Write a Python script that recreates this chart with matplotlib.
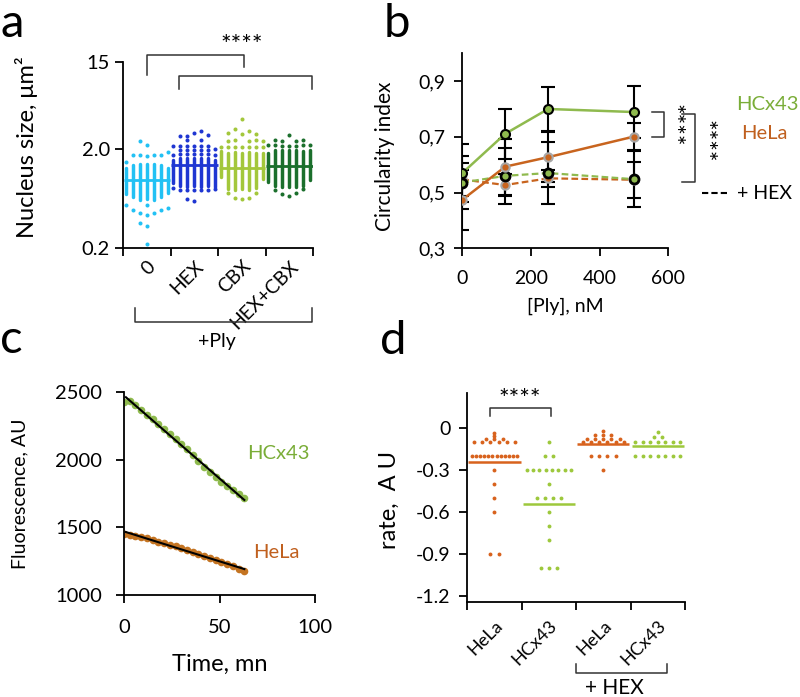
import numpy as np
import matplotlib.pyplot as plt
from matplotlib.ticker import NullLocator

plt.rcParams['font.family'] = ['Lato', 'DejaVu Sans']
plt.rcParams['axes.linewidth'] = 1.3

# ---------------- panel a : nucleus size ----------------
a_groups = ['0', 'HEX', 'CBX', 'HEX+CBX']
a_colors = ['#22c1f4', '#1f36d2', '#a3c73b', '#1b6f2c']
# dense stacks of dots, (low, high) for each of the 7 columns of a group
a_dense = [
    [(0.70, 1.29), (0.65, 1.38), (0.61, 1.41), (0.63, 1.39), (0.61, 1.41), (0.65, 1.38), (0.71, 1.28)],
    [(0.90, 1.55), (0.85, 1.62), (0.83, 1.63), (0.84, 1.62), (0.83, 1.63), (0.85, 1.61), (0.82, 1.55)],
    [(1.05, 1.90), (0.79, 1.82), (0.77, 1.84), (0.78, 1.83), (0.77, 1.84), (0.80, 1.82), (1.00, 1.80)],
    [(0.92, 1.81), (0.84, 1.93), (0.82, 1.94), (0.83, 1.93), (0.82, 1.94), (0.85, 1.92), (0.98, 1.93)],
]
# sparse dots (column, value)
a_sparse = [
    [(2, 2.37), (3, 2.17), (1, 1.73), (2, 1.72), (3, 1.71), (4, 1.72), (5, 1.73), (6, 1.87), (0, 1.47),
     (0, 0.54), (3, 0.54), (1, 0.48), (2, 0.45), (3, 0.43), (4, 0.45), (5, 0.48), (6, 0.51),
     (2, 0.36), (3, 0.33), (3, 0.22)],
    [(1, 2.72), (2, 2.70), (3, 2.90), (4, 3.05), (5, 2.75), (2, 2.45), (4, 2.45),
     (0, 2.14), (1, 2.14), (2, 2.14), (3, 2.14), (4, 2.14), (5, 2.14), (6, 2.00),
     (1, 1.94), (2, 1.94), (3, 1.94), (4, 1.94), (5, 1.94),
     (0, 1.72), (1, 1.76), (2, 1.76), (3, 1.76), (4, 1.76), (5, 1.76), (6, 1.72),
     (0, 0.80), (1, 0.77), (2, 0.77), (3, 0.77), (4, 0.77), (5, 0.77), (6, 0.78), (2, 0.63), (3, 0.59)],
    [(3, 4.0), (2, 3.15), (4, 3.0), (1, 2.9), (3, 2.81), (5, 2.79), (1, 2.42), (2, 2.45), (4, 2.42),
     (5, 2.45), (6, 2.40), (0, 2.07), (1, 2.07), (2, 2.07), (3, 2.07), (4, 2.07), (5, 2.07), (6, 2.07),
     (1, 0.71), (2, 0.64), (3, 0.62), (4, 0.64), (5, 0.72)],
    [(3, 2.75), (1, 2.45), (2, 2.40), (4, 2.40), (5, 2.45), (0, 2.17), (1, 2.17), (2, 2.14), (3, 2.14),
     (4, 2.14), (5, 2.17), (6, 2.17), (1, 0.77), (2, 0.70), (3, 0.67), (4, 0.72), (5, 0.78)],
]
a_median = [0.98, 1.38, 1.29, 1.35]

# ---------------- panel b : circularity ----------------
b_ply = [0, 125, 250, 500]
b_hcx = [0.57, 0.711, 0.80, 0.789]
b_hcx_err = [0.105, 0.09, 0.078, 0.092]
b_hela = [0.474, 0.593, 0.627, 0.701]
b_hela_err = [0.108, 0.10, 0.09, 0.05]
b_hcx_hex = [0.536, 0.56, 0.57, 0.548]
b_hcx_hex_err = [0.095, 0.10, 0.11, 0.10]
b_hela_hex = [0.547, 0.527, 0.551, 0.546]
b_hela_hex_err = [0.06, 0.04, 0.03, 0.065]

# ---------------- panel c : fluorescence ----------------
c_time = [0, 3, 6, 9, 12, 15, 18, 21, 24, 27, 30, 33, 36, 39, 42, 45, 48, 51, 54, 57, 60, 63]
c_hcx = [2432, 2438, 2410, 2370, 2335, 2300, 2268, 2232, 2195, 2158, 2118, 2078, 2035, 1990,
         1948, 1910, 1870, 1838, 1805, 1778, 1748, 1718]
c_hela = [1452, 1445, 1440, 1432, 1420, 1405, 1392, 1382, 1372, 1360, 1348, 1335, 1320, 1305,
          1290, 1275, 1258, 1243, 1228, 1212, 1195, 1180]

# ---------------- panel d : rate ----------------
d_groups = ['HeLa', 'HCx43', 'HeLa', 'HCx43']
d_colors = ['#d8621d', '#9dc83c', '#d8621d', '#9dc83c']
# (value, number of dots at that value)
d_levels = [
    [(-0.035, 1), (-0.055, 1), (-0.08, 3), (-0.1, 6), (-0.2, 12), (-0.3, 1), (-0.4, 1), (-0.5, 1),
     (-0.6, 1), (-0.9, 2)],
    [(-0.1, 1), (-0.2, 2), (-0.3, 8), (-0.4, 1), (-0.5, 4), (-0.6, 1), (-0.7, 1), (-0.8, 1), (-1.0, 3)],
    [(-0.02, 1), (-0.05, 3), (-0.08, 5), (-0.1, 6), (-0.2, 4), (-0.3, 1)],
    [(-0.03, 1), (-0.06, 2), (-0.1, 7), (-0.2, 7)],
]
d_median = [-0.24, -0.538, -0.115, -0.127]

green = '#8fba4e'
orange = '#c8641e'
green_txt = '#7aad38'
orange_txt = '#c0601f'


def clean(ax):
    ax.spines['top'].set_visible(False)
    ax.spines['right'].set_visible(False)
    ax.tick_params(direction='out', length=6, width=1.3)


fig = plt.figure(figsize=(8, 6.97), dpi=100)

# ===== a =====
ax = fig.add_axes([0.1538, 0.6442, 0.2375, 0.2669])
clean(ax)
col_off = np.linspace(-0.44, 0.44, 7)
for i in range(4):
    for k, (lo, hi) in enumerate(a_dense[i]):
        ax.vlines(i + col_off[k], lo, hi, color=a_colors[i], lw=2.5, capstyle='round')
    xs = [i + col_off[k] for k, v in a_sparse[i]]
    ys = [v for k, v in a_sparse[i]]
    ax.plot(xs, ys, 'o', ms=2.9, color=a_colors[i], mec='none')
    ax.hlines(a_median[i], i - 0.49, i + 0.49, color=a_colors[i], lw=2)
ax.set_yscale('log')
ax.set_ylim(0.2, 15)
ax.set_yticks([0.2, 2.0, 15])
ax.set_yticklabels(['0.2', '2.0', '15'], fontsize=14.5)
ax.yaxis.set_minor_locator(NullLocator())
ax.set_xlim(-0.5, 3.5)
ax.set_xticks(np.arange(-0.5, 4, 1))
ax.set_xticklabels([])
ax.set_xticks(range(4), minor=True)
ax.set_xticklabels(a_groups, minor=True, rotation=45, ha='right', rotation_mode='anchor', fontsize=14)
ax.tick_params(axis='x', which='minor', length=0, pad=7)
ax.set_ylabel('Nucleus size, μm²', fontsize=17)
ax.yaxis.set_label_coords(-0.445, 0.54)
tr = ax.get_xaxis_transform()
ax.plot([0, 0, 2.04, 2.04], [0.930, 1.038, 1.038, 0.973], color='#333333', lw=1.1, transform=tr, clip_on=False)
ax.plot([0.67, 0.67, 3.47, 3.47], [0.855, 0.925, 0.925, 0.855], color='#333333', lw=1.1, transform=tr, clip_on=False)
ax.text(2.0, 1.09, '****', ha='center', va='center', fontsize=18, transform=tr)
ax.plot([-0.25, -0.25, 3.47, 3.47], [-0.323, -0.398, -0.398, -0.323], color='#333333', lw=1.1,
        transform=tr, clip_on=False)
ax.text(1.47, -0.505, '+Ply', ha='center', va='center', fontsize=14, transform=tr)

# ===== b =====
ax = fig.add_axes([0.5779, 0.6438, 0.2575, 0.2798])
clean(ax)
eb = dict(fmt='none', ecolor='black', elinewidth=1.5, capsize=4.8, capthick=1.5, zorder=2)
ax.errorbar(b_ply, b_hcx, yerr=b_hcx_err, **eb)
ax.errorbar(b_ply, b_hela, yerr=b_hela_err, **eb)
ax.errorbar(b_ply, b_hcx_hex, yerr=b_hcx_hex_err, **eb)
ax.errorbar(b_ply, b_hela_hex, yerr=b_hela_hex_err, **eb)
dash = (0, (3, 1.5))
ax.plot(b_ply, b_hela_hex, ls=dash, color=orange, lw=1.6, marker='o', ms=6, mfc=orange, mec='#a8a8a8', mew=1.5, zorder=3)
ax.plot(b_ply, b_hcx_hex, ls=dash, color=green, lw=1.6, marker='o', ms=6.5, mfc=green, mec='black', mew=2, zorder=3)
ax.plot(b_ply, b_hela, color=orange, lw=1.8, marker='o', ms=6, mfc=orange, mec='#a8a8a8', mew=1.5, zorder=4)
ax.plot(b_ply, b_hcx, color=green, lw=1.8, marker='o', ms=6.5, mfc=green, mec='black', mew=1.5, zorder=4)
ax.set_xlim(0, 600)
ax.set_ylim(0.3, 1.0)
ax.set_xticks([0, 200, 400, 600])
ax.set_xticklabels(['0', '200', '400', '600'], fontsize=14)
ax.set_yticks([0.3, 0.5, 0.7, 0.9])
ax.set_yticklabels(['0,3', '0,5', '0,7', '0,9'], fontsize=14)
ax.tick_params(axis='x', pad=10)
ax.tick_params(axis='y', pad=6)
ax.set_xlabel('[Ply], nM', fontsize=14)
ax.xaxis.set_label_coords(0.5, -0.255)
ax.set_ylabel('Circularity index', fontsize=15)
ax.yaxis.set_label_coords(-0.327, 0.47)
ax.plot([552, 587.5, 587.5, 552], [0.789, 0.789, 0.701, 0.701], color='#333333', lw=1.1, clip_on=False)
ax.plot([639, 678, 678, 639], [0.783, 0.783, 0.539, 0.539], color='#333333', lw=1.1, clip_on=False)
ax.text(612, 0.743, '****', rotation=270, ha='center', va='center', fontsize=18)
ax.text(705, 0.683, '****', rotation=270, ha='center', va='center', fontsize=18)
ax.text(888, 0.815, 'HCx43', color=green_txt, ha='center', va='center', fontsize=14.5)
ax.text(881, 0.713, 'HeLa', color=orange_txt, ha='center', va='center', fontsize=14.5)
ax.plot([697, 775], [0.498, 0.498], color='black', ls=dash, lw=1.5, clip_on=False)
ax.text(799, 0.498, '+ HEX', ha='left', va='center', fontsize=14)

# ===== c =====
ax = fig.add_axes([0.155, 0.1463, 0.23875, 0.2908])
clean(ax)
ax.plot(c_time, c_hcx, 'o', ms=5.5, color=green, mec='none')
ax.plot(c_time, c_hela, 'o', ms=5.5, color='#c47422', mec='none')
for vals in (c_hcx, c_hela):
    k, b0 = np.polyfit(c_time, vals, 1)
    tt = np.array([c_time[0] + 1, c_time[-1]])
    ax.plot(tt, k * tt + b0, color='black', lw=1.5)
ax.set_xlim(0, 100)
ax.set_ylim(1000, 2500)
ax.set_xticks([0, 50, 100])
ax.set_xticklabels(['0', '50', '100'], fontsize=14.5)
ax.set_yticks([1000, 1500, 2000, 2500])
ax.set_yticklabels(['1000', '1500', '2000', '2500'], fontsize=14.5)
ax.tick_params(axis='x', pad=11)
ax.tick_params(axis='y', pad=10)
ax.set_xlabel('Time, mn', fontsize=17)
ax.xaxis.set_label_coords(0.5, -0.29)
ax.set_ylabel('Fluorescence, AU', fontsize=14)
ax.yaxis.set_label_coords(-0.50, 0.5)
ax.text(80.6, 2051, 'HCx43', color=green_txt, ha='center', va='center', fontsize=14.5)
ax.text(79.6, 1318, 'HeLa', color=orange_txt, ha='center', va='center', fontsize=14.5)

# ===== d =====
ax = fig.add_axes([0.5841, 0.1367, 0.2721, 0.299])
clean(ax)
for i in range(4):
    for val, n in d_levels[i]:
        step = min(0.15, 0.82 / max(n - 1, 1))
        xs = i + (np.arange(n) - (n - 1) / 2) * step
        ax.plot(xs, [val] * n, 'o', ms=2.8, color=d_colors[i], mec='none')
    ax.hlines(d_median[i], i - 0.48, i + 0.48, color=d_colors[i], lw=1.8)
ax.set_xlim(-0.5, 3.5)
ax.set_ylim(-1.24, 0.25)
ax.set_yticks([0, -0.3, -0.6, -0.9, -1.2])
ax.set_yticklabels(['0', '-0.3', '-0.6', '-0.9', '-1.2'], fontsize=14)
ax.tick_params(axis='y', pad=6)
ax.set_xticks(np.arange(-0.5, 4, 1))
ax.set_xticklabels([])
ax.set_xticks(range(4), minor=True)
ax.set_xticklabels(d_groups, minor=True, rotation=45, ha='right', rotation_mode='anchor', fontsize=13)
ax.tick_params(axis='x', which='minor', length=0, pad=11)
ax.set_ylabel('rate,  A U', fontsize=17)
ax.yaxis.set_label_coords(-0.31, 0.49)
ax.plot([-0.08, -0.08, 1.04, 1.04], [0.088, 0.148, 0.148, 0.088], color='#333333', lw=1.1)
ax.text(0.46, 0.208, '****', ha='center', va='center', fontsize=18)
ax.plot([1.5, 1.5, 3.17, 3.17], [-1.686, -1.75, -1.75, -1.686], color='#333333', lw=1.1, clip_on=False)
ax.text(2.2, -1.86, '+ HEX', ha='center', va='center', fontsize=15)

# panel letters
fig.text(0.0, 0.947, 'a', fontsize=34, ha='left', va='baseline')
fig.text(0.479, 0.947, 'b', fontsize=34, ha='left', va='baseline')
fig.text(0.0, 0.4935, 'c', fontsize=34, ha='left', va='baseline')
fig.text(0.475, 0.492, 'd', fontsize=34, ha='left', va='baseline')

fig.savefig('out.png', dpi=100)
